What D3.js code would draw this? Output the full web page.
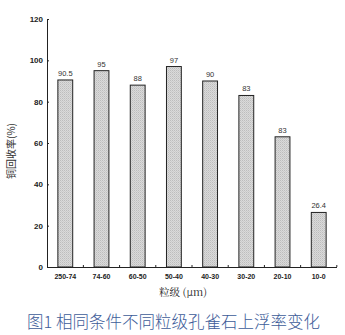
<!DOCTYPE html>
<html>
<head>
<meta charset="utf-8">
<script src="https://cdn.jsdelivr.net/npm/d3@7"></script>
<style>
  body { margin: 0; background: #fff; }
  svg text { font-family: "Liberation Sans", Arial, sans-serif; }
</style>
</head>
<body>
<div id="chart"></div>
<script>
// data
var sizes = ["250-74", "74-60", "60-50", "50-40", "40-30", "30-20", "20-10", "10-0"];
var recovery = [90.5, 95, 88, 97, 90, 83, 63, 26.4];
// labels as printed above the bars (the 7th one is printed "83")
var barLabels = ["90.5", "95", "88", "97", "90", "83", "83", "26.4"];
var yTicks = [0, 20, 40, 60, 80, 100, 120];

var svgWidth = 345;
var svgHeight = 335;

// plot area
var x0 = 47, x1 = 337;
var yTop = 19, yBottom = 267;

var svg = d3.select("#chart")
    .append("svg")
    .attr("width", svgWidth)
    .attr("height", svgHeight);

// pattern for the dotted grey bars
var defs = svg.append("defs");
var pat = defs.append("pattern")
    .attr("id", "dots")
    .attr("width", 2)
    .attr("height", 2)
    .attr("patternUnits", "userSpaceOnUse");
pat.append("rect").attr("width", 2).attr("height", 2).attr("fill", "#dadada");
pat.append("rect").attr("width", 1).attr("height", 1).attr("fill", "#bdbdbd");
pat.append("rect").attr("x", 1).attr("y", 1).attr("width", 1).attr("height", 1).attr("fill", "#cbcbcb");

var xScale = d3.scaleBand()
    .domain(sizes)
    .range([x0, x1])
    .paddingInner(0.59)
    .paddingOuter(0.3);

var yScale = d3.scaleLinear()
    .domain([0, 120])
    .range([yBottom, yTop]);

// y axis
var yAxis = d3.axisRight(yScale)
    .tickValues(yTicks)
    .tickSize(2);

var yG = svg.append("g")
    .attr("transform", `translate(${x0},0)`)
    .call(yAxis);
yG.select(".domain").attr("stroke", "#222").attr("stroke-width", 1);
yG.selectAll(".tick line").attr("stroke", "#222");
yG.selectAll(".tick text")
    .attr("text-anchor", "end")
    .attr("x", -4)
    .attr("font-size", "8px")
    .attr("font-weight", "bold")
    .attr("fill", "#222");

// bars
svg.selectAll("rect.bar")
    .data(recovery)
    .enter()
    .append("rect")
    .attr("class", "bar")
    .attr("x", (d, i) => xScale(sizes[i]))
    .attr("y", d => yScale(d))
    .attr("width", xScale.bandwidth())
    .attr("height", d => yBottom - yScale(d))
    .attr("fill", "url(#dots)")
    .attr("stroke", "#222")
    .attr("stroke-width", 1);

// value labels
svg.selectAll("text.val")
    .data(recovery)
    .enter()
    .append("text")
    .attr("class", "val")
    .attr("x", (d, i) => xScale(sizes[i]) + xScale.bandwidth() / 2)
    .attr("y", d => yScale(d) - 4)
    .attr("text-anchor", "middle")
    .attr("font-size", "7.5px")
    .attr("fill", "#333")
    .text((d, i) => barLabels[i]);

// x axis line with small ticks between bars
var xAxis = d3.axisBottom(xScale).tickSize(0).tickPadding(7);
var xG = svg.append("g")
    .attr("transform", `translate(0,${yBottom})`)
    .call(xAxis);
xG.select(".domain").attr("stroke", "#222").attr("d", `M${x0},0.5H${x1}`);
xG.selectAll(".tick text")
    .attr("font-size", "7px")
    .attr("font-weight", "bold")
    .attr("fill", "#222");

var step = xScale.step();
var between = sizes.map((s, i) => xScale(s) + xScale.bandwidth() / 2 + step / 2);
xG.selectAll("line.minor")
    .data(between)
    .enter()
    .append("line")
    .attr("class", "minor")
    .attr("x1", d => d)
    .attr("x2", d => d)
    .attr("y1", 0)
    .attr("y2", -2)
    .attr("stroke", "#222");

// axis titles
svg.append("text")
    .attr("x", 183)
    .attr("y", 296)
    .attr("text-anchor", "middle")
    .attr("font-size", "10.5px")
    .attr("fill", "#222")
    .style("font-family", "'Noto Serif CJK SC', 'Noto Sans CJK SC', serif")
    .text("粒级 (μm)");

svg.append("text")
    .attr("transform", "translate(15,151) rotate(-90)")
    .attr("text-anchor", "middle")
    .attr("font-size", "10px")
    .attr("fill", "#333")
    .style("font-family", "'Noto Sans CJK SC', sans-serif")
    .text("铜回收率(%)");

// caption
svg.append("text")
    .attr("x", 27)
    .attr("y", 328)
    .attr("font-size", "16.5px")
    .attr("font-weight", 300)
    .attr("fill", "#3d5c99")
    .style("font-family", "'Noto Sans CJK SC', sans-serif")
    .text("图1 相同条件不同粒级孔雀石上浮率变化");
</script>
</body>
</html>
